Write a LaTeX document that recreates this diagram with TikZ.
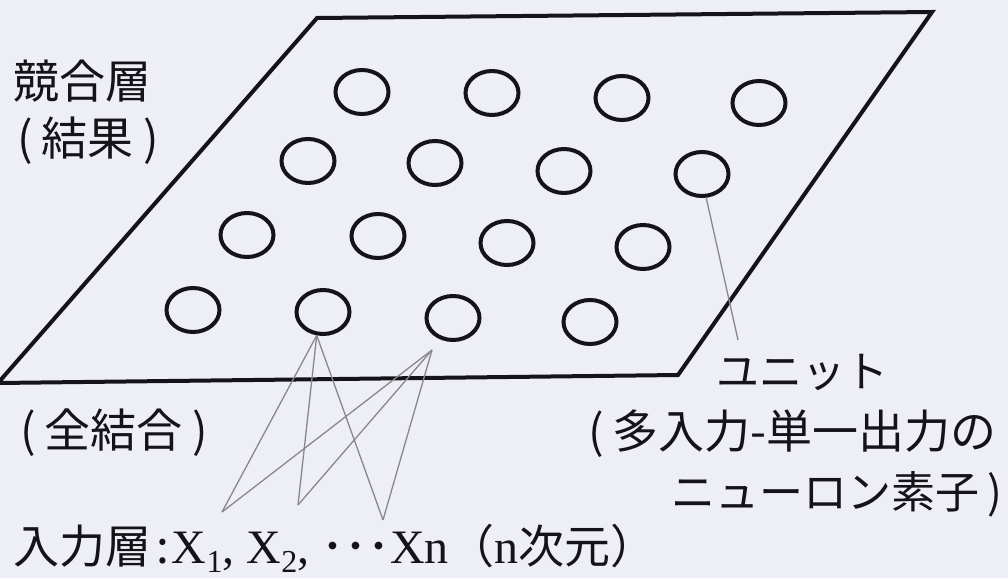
\documentclass[tikz,border=0pt]{standalone}
\usepackage{fontspec}
\usepackage{xcolor}
\usetikzlibrary{shapes.geometric,positioning}
\setmainfont{Liberation Serif}
\newfontfamily\jpfont{Noto Sans CJK JP}
\definecolor{paper}{RGB}{238,238,247}
\definecolor{ink}{RGB}{20,20,24}
\definecolor{wiregray}{RGB}{135,135,140}
\newcommand{\serifpart}[1]{{\rmfamily\fontsize{48}{57}\selectfont #1}}
\newcommand{\subidx}[1]{\raisebox{-9pt}{\fontsize{32}{32}\selectfont #1}}
\newcommand{\lpar}{(\hspace{0.2em}}
\newcommand{\rpar}{\hspace{0.2em})}

\begin{document}
\begin{tikzpicture}[x=1pt, y=-1pt,
  neuron/.style={ellipse, draw=ink, line width=4pt, minimum width=53pt, minimum height=44pt, inner sep=0pt},
  wire/.style={draw=wiregray, line width=1.3pt},
  lab/.style={font=\jpfont\fontsize{46}{57}\selectfont, text=ink, anchor=base west, inner sep=0pt}]
  \fill[paper] (0,0) rectangle (1008,578);
  \useasboundingbox (0,0) rectangle (1008,578);
  \draw[ink, line width=4pt] (-2,383) -- (317,18) -- (932,12) -- (678,375) -- cycle;
  \foreach \r/\c/\px/\py in {
    1/1/362/92, 1/2/492/93, 1/3/622/98, 1/4/759/103,
    2/1/308/161, 2/2/435/163, 2/3/564/171, 2/4/702/174,
    3/1/247/235, 3/2/378/236, 3/3/507/243, 3/4/643/247,
    4/1/193/310, 4/2/323/312, 4/3/453/318, 4/4/590/322} {
      \node[neuron] (u\r\c) at (\px,\py) {};
  }
  \node[lab] (layer) at (13,98) {競合層};
  \node[lab] (result) at (17,155) {\lpar 結果\rpar};
  \node[lab] (full) at (20,447) {\lpar 全結合\rpar};
  \node[lab, font=\jpfont\fontsize{43}{50}\selectfont] (unitlab) at (716,387) {ユニット};
  \node[lab] (desc1) at (588,448) {\lpar 多入力-単一出力の};
  \node[lab, font=\jpfont\fontsize{44}{50}\selectfont] (desc2) at (671,508) {ニューロン素子\rpar};
  \node[lab] (input) at (13,563) {入力層\hspace{5pt}:\hspace{3pt}\serifpart{X\subidx{1}, X\subidx{2}, }･･･\serifpart{Xn}（\serifpart{n}次元）};
  \coordinate (x1) at (222,512);
  \coordinate (x2) at (298,505);
  \coordinate (x3) at (383,520);
  \coordinate (ta) at (u42.-105);
  \path ([shift={(-21,8)}]u43.south) coordinate (tb);
  \foreach \t in {ta,tb}
    \foreach \b in {x1,x2,x3}
      \draw[wire] (\t) -- (\b);
  \coordinate (lead) at (738,340);
  \draw[wire] (u24.-80) -- (lead);
\end{tikzpicture}
\end{document}
